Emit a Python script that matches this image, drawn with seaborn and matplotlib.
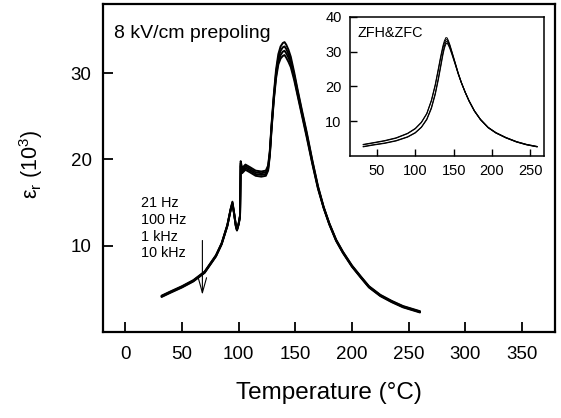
import matplotlib
matplotlib.use("Agg")
import matplotlib.pyplot as plt
import seaborn as sns
import pandas as pd

# ---------------- data ----------------
freq_labels = ["21 Hz", "100 Hz", "1 kHz", "10 kHz"]

T_main = [32, 40, 50, 60, 70, 80, 85, 90, 93, 94.5,
          96, 97.5, 98.5, 100, 101.2, 101.8, 103, 106, 110, 115,
          120, 124, 126, 127.5, 129, 131, 133, 135, 137, 139,
          140.5, 142, 144, 146, 149, 152, 156, 160, 165, 170,
          175, 180, 186, 192, 200, 208, 215, 225, 235, 245,
          260]

eps_21Hz = [4.2, 4.7, 5.3, 6.0, 7.0, 8.9, 10.3, 12.4, 14.3, 15.1,
            13.8, 12.4, 11.9, 12.6, 13.5, 19.8, 19.0, 19.4, 19.1, 18.7,
            18.6, 18.7, 19.3, 21.0, 24.0, 27.5, 30.4, 32.2, 33.1, 33.5,
            33.6, 33.3, 32.7, 31.9, 30.1, 28.1, 25.6, 23.2, 19.9, 16.9,
            14.5, 12.6, 10.7, 9.3, 7.7, 6.4, 5.3, 4.3, 3.6, 3.0,
            2.4]
eps_100Hz = [4.15, 4.65, 5.25, 5.95, 6.95, 8.85, 10.25, 12.35, 14.25, 15.0,
             13.75, 12.35, 11.85, 12.55, 13.45, 19.6, 18.8, 19.2, 18.9, 18.5,
             18.4, 18.5, 19.1, 20.8, 23.8, 27.2, 30.0, 31.8, 32.6, 33.0,
             33.1, 32.8, 32.2, 31.5, 29.8, 27.9, 25.4, 23.0, 19.8, 16.8,
             14.45, 12.55, 10.65, 9.25, 7.65, 6.35, 5.25, 4.25, 3.55, 2.95,
             2.35]
eps_1kHz = [4.1, 4.6, 5.2, 5.9, 6.9, 8.8, 10.2, 12.3, 14.2, 14.9,
            13.7, 12.3, 11.8, 12.5, 13.4, 19.4, 18.6, 19.0, 18.7, 18.3,
            18.2, 18.3, 18.9, 20.6, 23.6, 27.0, 29.7, 31.4, 32.1, 32.5,
            32.6, 32.3, 31.8, 31.1, 29.5, 27.6, 25.2, 22.8, 19.6, 16.7,
            14.4, 12.5, 10.6, 9.2, 7.6, 6.3, 5.2, 4.2, 3.5, 2.9,
            2.3]
eps_10kHz = [4.05, 4.55, 5.15, 5.85, 6.85, 8.75, 10.15, 12.25, 14.15, 14.8,
             13.65, 12.25, 11.75, 12.45, 13.35, 19.2, 18.4, 18.8, 18.5, 18.1,
             18.0, 18.1, 18.7, 20.4, 23.4, 26.8, 29.4, 31.0, 31.7, 32.0,
             32.1, 31.8, 31.3, 30.7, 29.2, 27.4, 25.0, 22.6, 19.5, 16.6,
             14.35, 12.45, 10.55, 9.15, 7.55, 6.25, 5.15, 4.15, 3.45, 2.85,
             2.25]

# inset: ZFH & ZFC
T_inset = [32, 45, 60, 75, 90, 100, 108, 115, 121, 126,
           130, 133, 136, 138, 140, 141.5, 143, 145, 148, 152,
           156, 160, 165, 170, 177, 185, 195, 205, 218, 232,
           245, 259]
zfh_a = [3.3, 3.8, 4.4, 5.2, 6.5, 7.9, 9.7, 12.2, 16.0, 20.5,
         25.0, 28.5, 31.6, 33.1, 34.0, 33.9, 33.2, 32.0, 29.8, 26.8,
         23.8, 21.2, 18.3, 15.8, 12.9, 10.4, 8.1, 6.6, 5.2, 4.0,
         3.2, 2.6]
zfh_b = [3.2, 3.7, 4.3, 5.1, 6.4, 7.8, 9.6, 12.1, 15.8, 20.2,
         24.6, 28.0, 31.0, 32.5, 33.4, 33.4, 32.8, 31.7, 29.6, 26.7,
         23.7, 21.1, 18.3, 15.8, 12.9, 10.4, 8.1, 6.6, 5.2, 4.0,
         3.2, 2.6]
zfc_a = [2.7, 3.2, 3.7, 4.4, 5.5, 6.7, 8.3, 10.6, 13.9, 18.0,
         22.3, 25.9, 29.6, 31.6, 32.8, 32.9, 32.4, 31.3, 29.3, 26.5,
         23.6, 21.1, 18.4, 15.9, 13.0, 10.5, 8.2, 6.7, 5.3, 4.1,
         3.3, 2.7]
zfc_b = [2.6, 3.1, 3.6, 4.3, 5.4, 6.6, 8.2, 10.4, 13.6, 17.6,
         21.8, 25.4, 29.0, 31.0, 32.2, 32.4, 31.9, 30.9, 29.0, 26.3,
         23.5, 21.0, 18.3, 15.9, 13.0, 10.5, 8.2, 6.7, 5.3, 4.1,
         3.3, 2.7]

main_xticks = [0, 50, 100, 150, 200, 250, 300, 350]
main_yticks = [10, 20, 30]
inset_xticks = [50, 100, 150, 200, 250]
inset_yticks = [10, 20, 30, 40]

# ---------------- build tables ----------------
main_series = {"21 Hz": eps_21Hz, "100 Hz": eps_100Hz, "1 kHz": eps_1kHz, "10 kHz": eps_10kHz}
df_main = pd.concat(
    [pd.DataFrame({"T": T_main, "eps": v, "freq": k}) for k, v in main_series.items()],
    ignore_index=True)
inset_series = {"ZFH a": zfh_a, "ZFH b": zfh_b, "ZFC a": zfc_a, "ZFC b": zfc_b}
df_inset = pd.concat(
    [pd.DataFrame({"T": T_inset, "eps": v, "run": k}) for k, v in inset_series.items()],
    ignore_index=True)

# ---------------- style ----------------
sns.set_theme(style="ticks")
plt.rcParams["font.family"] = ["Liberation Sans", "DejaVu Sans"]
plt.rcParams["mathtext.fontset"] = "custom"
plt.rcParams["mathtext.rm"] = "Liberation Sans"
plt.rcParams["mathtext.it"] = "Liberation Sans:italic"
plt.rcParams["mathtext.bf"] = "Liberation Sans:bold"
plt.rcParams["text.color"] = "black"
plt.rcParams["axes.labelcolor"] = "black"
plt.rcParams["xtick.color"] = "black"
plt.rcParams["ytick.color"] = "black"

fig = plt.figure(figsize=(5.61, 4.18), dpi=100)
ax = fig.add_axes([0.183, 0.206, 0.806, 0.784])

sns.lineplot(data=df_main, x="T", y="eps", units="freq", estimator=None,
             sort=False, color="black", lw=1.4, ax=ax, legend=False)

ax.set_xlim(-20, 379)
ax.set_ylim(0, 38)
ax.set_xticks(main_xticks)
ax.set_yticks(main_yticks)
ax.tick_params(axis="both", direction="in", length=7, width=1.3,
               labelsize=13.5, colors="black")
ax.tick_params(axis="x", pad=10.5)
ax.tick_params(axis="y", pad=8)
for s in ax.spines.values():
    s.set_linewidth(1.6)
    s.set_color("black")

ax.set_xlabel("Temperature (°C)", fontsize=17.5, color="black")
ax.set_ylabel("ε$_{\\rm r}$ (10$^{3}$)", fontsize=15.5, color="black")
ax.xaxis.set_label_coords(0.5, -0.152)
ax.yaxis.set_label_coords(-0.128, 0.512)

ax.text(-10, 34.1, "8 kV/cm prepoling", fontsize=14, ha="left", va="baseline", color="black")
for i, lab in enumerate(freq_labels):
    ax.text(13.5, 14.45 - i * 1.93, lab, fontsize=10.4, ha="left", va="baseline", color="black")
ax.annotate("", xy=(68, 4.3), xytext=(68, 10.6),
            arrowprops=dict(arrowstyle="->,head_length=0.9,head_width=0.25",
                            color="black", lw=0.8, shrinkA=0, shrinkB=0))

# ---------------- inset ----------------
axi = fig.add_axes([0.624, 0.627, 0.346, 0.333])
sns.lineplot(data=df_inset, x="T", y="eps", units="run", estimator=None,
             sort=False, color="black", lw=0.75, ax=axi, legend=False)
axi.set_xlim(15, 268)
axi.set_ylim(0, 40)
axi.set_xticks(inset_xticks)
axi.set_yticks(inset_yticks)
axi.tick_params(axis="both", direction="in", length=5, width=1.0,
                labelsize=10.5, colors="black", pad=6)
for s in axi.spines.values():
    s.set_linewidth(1.1)
    s.set_color("black")
axi.set_xlabel("")
axi.set_ylabel("")
axi.text(24.7, 34.3, "ZFH&ZFC", fontsize=10.4, ha="left", va="baseline", color="black")

fig.savefig("out.png", dpi=100)
